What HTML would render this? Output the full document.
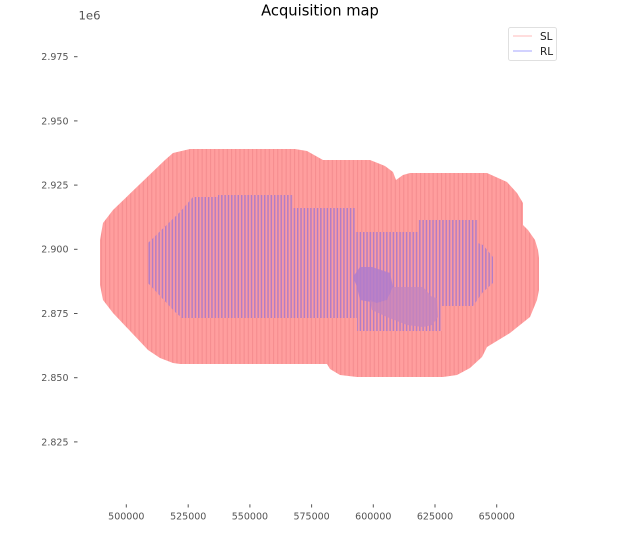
<!DOCTYPE html>
<html><head><meta charset="utf-8"><style>
html,body{margin:0;padding:0;background:#fff;}
svg{display:block;}
text{font-family:"DejaVu Sans","Liberation Sans",sans-serif;}
</style></head><body>
<svg width="624" height="534" viewBox="0 0 624 534" xmlns="http://www.w3.org/2000/svg">
<defs>
<pattern id="sl" patternUnits="userSpaceOnUse" x="0" y="0" width="4.2" height="10">
<rect x="0" y="0" width="4.2" height="10" fill="#ff9e9e"/>
<rect x="0" y="0" width="1.1" height="10" fill="#f58d8f"/>
</pattern>
<pattern id="rl" patternUnits="userSpaceOnUse" x="0" y="0" width="3.3" height="10">
<rect x="0" y="0" width="3.3" height="10" fill="#fb9ba0"/>
<rect x="0" y="0" width="1.5" height="10" fill="#b27dc6"/>
</pattern>
</defs>
<rect width="624" height="534" fill="#fff"/>
<text x="320" y="15.5" font-size="14.7" text-anchor="middle" fill="#000">Acquisition map</text>
<text x="78.5" y="19.5" font-size="11.7" fill="#555">1e6</text>

<!-- outer SL region -->
<polygon fill="url(#sl)" points="173,153 190,149 295,149 307,151 323,160 370,160 385,166 393,172 396,180 403,175 410,173 487,173 507,182 517,193 523,203 523,225 528,230 535,240 538,250 539,258 539,290 537,300 530,317 510,333 487,347 482,357 470,368 457,375 443,377 357,377 340,375 330,369 327,364 180,364 173,363 160,358 148,350 113,313 103,300 100,285 100,240 103,223 113,210 165,160"/>

<!-- RL region -->
<polygon fill="url(#rl)" points="148,243 180,212 193,197 218,197 218,195 293,195 293,208 355,208 355,232 418,232 418,220 478,220 478,243 483,245 493,257 493,283 483,292 473,306 442,306 442,331 357,331 357,318 182,318 175,312 148,283"/>

<!-- dense blobs -->
<polygon fill="#b07ccb" opacity="0.85" points="360,267 372,267 390,273 393,287 387,300 377,303 360,300 357,287 353,277"/>
<polygon fill="#c684bd" opacity="0.8" points="393,287 423,287 432,297 437,298 438,317 432,325 423,327 407,325 387,317 372,310 370,300 377,303 387,300"/>

<!-- legend -->
<rect x="508.5" y="27.5" width="48" height="33" rx="2" fill="#fff" fill-opacity="0.85" stroke="#e0e0e0" stroke-width="1"/>
<line x1="513" y1="36" x2="532" y2="36" stroke="#ffd2d2" stroke-width="1.5"/>
<line x1="513" y1="51" x2="532" y2="51" stroke="#c4c4ff" stroke-width="1.5"/>
<text x="540" y="40" font-size="10.5" fill="#222">SL</text>
<text x="540" y="55" font-size="10.5" fill="#222">RL</text>

<!-- y ticks -->
<g stroke="#555" stroke-width="1">
<line x1="74" y1="56.7" x2="77.5" y2="56.7"/>
<line x1="74" y1="120.9" x2="77.5" y2="120.9"/>
<line x1="74" y1="185.1" x2="77.5" y2="185.1"/>
<line x1="74" y1="249.3" x2="77.5" y2="249.3"/>
<line x1="74" y1="313.5" x2="77.5" y2="313.5"/>
<line x1="74" y1="377.7" x2="77.5" y2="377.7"/>
<line x1="74" y1="441.9" x2="77.5" y2="441.9"/>
</g>
<g font-size="9.5" fill="#555" text-anchor="end">
<text x="68.5" y="60.1">2.975</text>
<text x="68.5" y="124.3">2.950</text>
<text x="68.5" y="188.5">2.925</text>
<text x="68.5" y="252.7">2.900</text>
<text x="68.5" y="316.9">2.875</text>
<text x="68.5" y="381.1">2.850</text>
<text x="68.5" y="445.3">2.825</text>
</g>

<!-- x ticks -->
<g stroke="#555" stroke-width="1">
<line x1="126.3" y1="504.3" x2="126.3" y2="507.5"/>
<line x1="188.2" y1="504.3" x2="188.2" y2="507.5"/>
<line x1="249.9" y1="504.3" x2="249.9" y2="507.5"/>
<line x1="311.6" y1="504.3" x2="311.6" y2="507.5"/>
<line x1="373.3" y1="504.3" x2="373.3" y2="507.5"/>
<line x1="435.0" y1="504.3" x2="435.0" y2="507.5"/>
<line x1="496.7" y1="504.3" x2="496.7" y2="507.5"/>
</g>
<g font-size="9.5" fill="#555" text-anchor="middle">
<text x="126.3" y="519.5">500000</text>
<text x="188.2" y="519.5">525000</text>
<text x="249.9" y="519.5">550000</text>
<text x="311.6" y="519.5">575000</text>
<text x="373.3" y="519.5">600000</text>
<text x="435.0" y="519.5">625000</text>
<text x="496.7" y="519.5">650000</text>
</g>
</svg>
</body></html>
